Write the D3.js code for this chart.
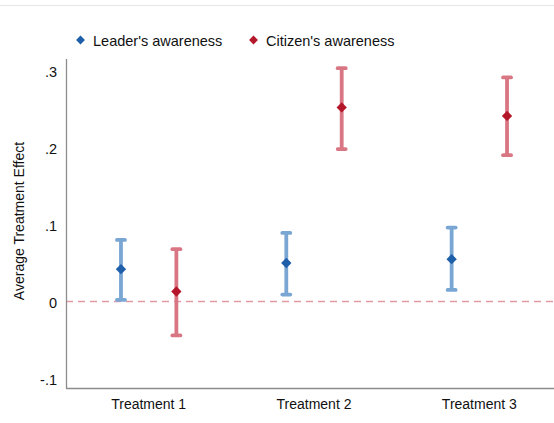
<!DOCTYPE html>
<html><head><meta charset="utf-8">
<script src="https://cdn.jsdelivr.net/npm/d3@7/dist/d3.min.js"></script>
<style>body{margin:0;background:#fff}svg{display:block}</style>
</head><body>
<script>
const categories = ["Treatment 1", "Treatment 2", "Treatment 3"];
const seriesNames = ["Leader's awareness", "Citizen's awareness"];
const leaderEst = [0.042, 0.050, 0.055];
const leaderLo  = [0.002, 0.009, 0.015];
const leaderHi  = [0.080, 0.089, 0.096];
const citizenEst = [0.013, 0.252, 0.241];
const citizenLo  = [-0.044, 0.198, 0.190];
const citizenHi  = [0.068, 0.303, 0.291];
const yTicks = [-0.1, 0, 0.1, 0.2, 0.3];
const yTickLabels = ["-.1", "0", ".1", ".2", ".3"];

const W = 554, H = 423;
const svg = d3.select("body").append("svg").attr("width", W).attr("height", H);
const font = "Liberation Sans, Arial, Helvetica, sans-serif";

// top separator line
svg.append("line").attr("x1", 0).attr("x2", W).attr("y1", 5.5).attr("y2", 5.5)
  .attr("stroke", "#e6e6e6").attr("stroke-width", 1);

const x = d3.scaleBand().domain(categories).range([66, 562]);
const y = d3.scaleLinear().domain([-0.1, 0.3]).range([378.5, 70.5]);
const off = 27.7;

// zero dashed line
svg.append("line").attr("x1", 66).attr("x2", W).attr("y1", y(0)).attr("y2", y(0))
  .attr("stroke", "#e49aa4").attr("stroke-width", 1.3).attr("stroke-dasharray", "7,5");

// axes
const yAxis = d3.axisLeft(y).tickValues(yTicks).tickFormat((d,i)=>yTickLabels[i]).tickSize(0).tickPadding(9);
const gy = svg.append("g").attr("transform", "translate(66,0)").call(yAxis);
gy.select(".domain").remove();
gy.attr("font-size", null).attr("font-family", null);
gy.selectAll("text").style("font-family", font).style("font-size", "14.5px").attr("fill", "#111").attr("dy", "0.4em");
svg.append("line").attr("x1", 66.5).attr("x2", 66.5).attr("y1", 59).attr("y2", 388.5)
  .attr("stroke", "#8c8c8c").attr("stroke-width", 1.3);
svg.append("line").attr("x1", 66).attr("x2", W).attr("y1", 388.5).attr("y2", 388.5)
  .attr("stroke", "#8c8c8c").attr("stroke-width", 1.3);

const xAxis = d3.axisBottom(x).tickSize(0).tickPadding(10.5);
const gx = svg.append("g").attr("transform", "translate(0,388.5)").call(xAxis);
gx.select(".domain").remove();
gx.attr("font-size", null).attr("font-family", null);
gx.selectAll("text").style("font-family", font).style("font-size", "14px").attr("fill", "#111");

svg.append("text").attr("transform", "translate(24,221) rotate(-90)")
  .attr("text-anchor", "middle").style("font-family", font).style("font-size", "14px")
  .attr("fill", "#111").text("Average Treatment Effect");

const series = [
  {est: leaderEst, lo: leaderLo, hi: leaderHi, dx: -off, bar: "#7aa6d3", pt: "#1f5ea8"},
  {est: citizenEst, lo: citizenLo, hi: citizenHi, dx: off, bar: "#d97683", pt: "#b4172a"}
];
const diamond = d3.symbol().type(d3.symbolDiamond2).size(68);

series.forEach(s => {
  const g = svg.append("g");
  categories.forEach((c, i) => {
    const cx = x(c) + x.bandwidth()/2 + s.dx;
    g.append("line").attr("x1", cx).attr("x2", cx).attr("y1", y(s.lo[i])).attr("y2", y(s.hi[i]))
      .attr("stroke", s.bar).attr("stroke-width", 3.8);
    [s.lo[i], s.hi[i]].forEach(v => {
      g.append("line").attr("x1", cx-4).attr("x2", cx+4).attr("y1", y(v)).attr("y2", y(v))
        .attr("stroke", s.bar).attr("stroke-width", 3.8).attr("stroke-linecap", "round");
    });
    g.append("path").attr("d", diamond).attr("transform", `translate(${cx},${y(s.est[i])})`)
      .attr("fill", s.pt);
  });
});

// legend
const legX = [80.5, 253.5];
seriesNames.forEach((n, i) => {
  svg.append("path").attr("d", d3.symbol().type(d3.symbolDiamond2).size(50))
    .attr("transform", `translate(${legX[i]},40)`).attr("fill", series[i].pt);
  svg.append("text").attr("x", legX[i] + 12.5).attr("y", 45.5)
    .style("font-family", font).style("font-size", "14.5px").attr("fill", "#111").text(n);
});
</script>
</body></html>
